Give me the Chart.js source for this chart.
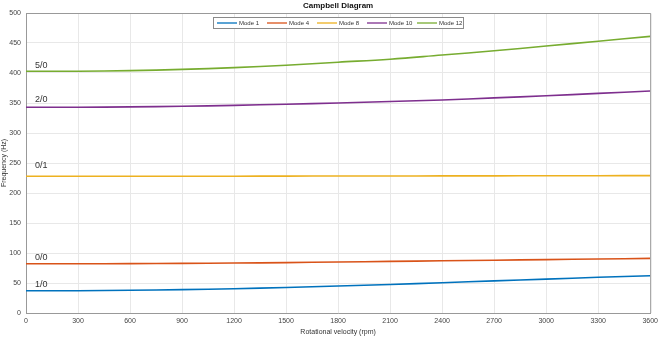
<!DOCTYPE html>
<html>
<head>
<meta charset="utf-8">
<script src="https://cdn.jsdelivr.net/npm/chart.js@4/dist/chart.umd.min.js"></script>
<style>
  html, body { margin: 0; padding: 0; background: #fff; }
  #wrap { width: 662px; height: 337px; position: relative; }
</style>
</head>
<body>
<div id="wrap"><canvas id="chart"></canvas></div>
<script>
// rotational speed (rpm)
const rpm = [0, 300, 600, 900, 1200, 1500, 1800, 2100, 2400, 2700, 3000, 3300, 3600];

// natural frequencies per mode (Hz)
const mode1 = [37, 37.2, 37.8, 39, 40.5, 42.5, 45, 47.5, 50.5, 53.5, 56.5, 59.5, 62];
const mode4 = [82, 82, 82.3, 82.7, 83.3, 84, 85, 86, 87, 88, 89, 90, 91];
const mode8 = [228, 228, 228, 228, 228, 228.2, 228.3, 228.4, 228.5, 228.6, 228.7, 228.8, 229];
const mode10 = [343, 343, 343.5, 344.5, 346, 348, 350, 352.5, 355, 358.5, 362, 366, 370];
const mode12 = [403, 403, 404, 406, 409, 413, 418, 423, 430, 437, 445, 453, 461];

const seriesNames = ['Mode 1', 'Mode 4', 'Mode 8', 'Mode 10', 'Mode 12'];
const seriesData = [mode1, mode4, mode8, mode10, mode12];
const seriesColors = ['#0072BD', '#D95319', '#EDB120', '#7E2F8E', '#77AC30'];

// mode shape labels near the left edge
const shapeLabels = ['1/0', '0/0', '0/1', '2/0', '5/0'];
const shapeLabelY = [47, 93, 245, 355, 413];

const FONT = 'Arial, "Liberation Sans", sans-serif';

const overlay = {
  id: 'overlay',
  afterDraw(chart) {
    const ctx = chart.ctx;
    const area = chart.chartArea;
    const xs = chart.scales.x, ys = chart.scales.y;
    ctx.save();

    // box around the plot + inward ticks on top/right
    ctx.strokeStyle = '#999';
    ctx.lineWidth = 1;
    ctx.beginPath();
    ctx.moveTo(area.left, area.top + 0.5);
    ctx.lineTo(area.right + 0.5, area.top + 0.5);
    ctx.lineTo(area.right + 0.5, area.bottom);
    ctx.stroke();

    // title
    ctx.fillStyle = '#111';
    ctx.font = 'bold 8px ' + FONT;
    ctx.textAlign = 'center';
    ctx.textBaseline = 'middle';
    ctx.fillText('Campbell Diagram', (area.left + area.right) / 2, 6);

    // mode shape labels
    ctx.fillStyle = '#333';
    ctx.font = '9px ' + FONT;
    ctx.textAlign = 'left';
    for (let i = 0; i < shapeLabels.length; i++) {
      ctx.fillText(shapeLabels[i], xs.getPixelForValue(0) + 9, ys.getPixelForValue(shapeLabelY[i]));
    }

    // legend box
    const boxL = 213, boxT = 17, boxW = 250, boxH = 11;
    ctx.fillStyle = '#fff';
    ctx.fillRect(boxL, boxT, boxW, boxH);
    ctx.strokeStyle = '#8a8a8a';
    ctx.lineWidth = 1;
    ctx.strokeRect(boxL + 0.5, boxT + 0.5, boxW, boxH);
    ctx.font = '6px ' + FONT;
    ctx.textBaseline = 'middle';
    let x = boxL + 4;
    const cy = boxT + boxH / 2 + 0.5;
    for (let i = 0; i < seriesNames.length; i++) {
      ctx.strokeStyle = seriesColors[i];
      ctx.lineWidth = 1.3;
      ctx.beginPath();
      ctx.moveTo(x, cy);
      ctx.lineTo(x + 20, cy);
      ctx.stroke();
      ctx.fillStyle = '#333';
      ctx.fillText(seriesNames[i], x + 22, cy);
      x += 50;
    }
    ctx.restore();
  }
};

new Chart(document.getElementById('chart'), {
  type: 'line',
  data: {
    labels: rpm,
    datasets: seriesNames.map((name, i) => ({
      label: name,
      data: rpm.map((r, j) => ({ x: r, y: seriesData[i][j] })),
      borderColor: seriesColors[i],
      backgroundColor: seriesColors[i],
      borderWidth: 1.6,
      pointRadius: 0,
      tension: 0.4,
      fill: false
    }))
  },
  options: {
    responsive: true,
    maintainAspectRatio: false,
    animation: false,
    layout: { padding: { top: 13, right: 10, left: 0, bottom: 0 } },
    plugins: {
      legend: { display: false },
      title: { display: false },
      tooltip: { enabled: false }
    },
    scales: {
      x: {
        type: 'linear',
        min: 0,
        max: 3600,
        afterFit(scale) { scale.height = 24; },
        ticks: {
          stepSize: 300,
          color: '#444',
          font: { size: 7, family: FONT },
          padding: 4,
          maxRotation: 0,
          callback: (v) => String(v)
        },
        grid: { color: '#e8e8e8', tickLength: 0 },
        border: { color: '#999' },
        title: {
          display: true,
          text: 'Rotational velocity (rpm)',
          color: '#333',
          font: { size: 7, family: FONT },
          padding: { top: 0, bottom: 1 }
        }
      },
      y: {
        min: 0,
        max: 500,
        afterFit(scale) { scale.width = 26; },
        ticks: {
          stepSize: 50,
          color: '#444',
          font: { size: 7, family: FONT },
          padding: 5,
          callback: (v) => String(v)
        },
        grid: { color: '#e8e8e8', tickLength: 0 },
        border: { color: '#999' },
        title: {
          display: true,
          text: 'Frequency (Hz)',
          color: '#333',
          font: { size: 7, family: FONT },
          padding: { top: 0, bottom: 0 }
        }
      }
    }
  },
  plugins: [overlay]
});
</script>
</body>
</html>
